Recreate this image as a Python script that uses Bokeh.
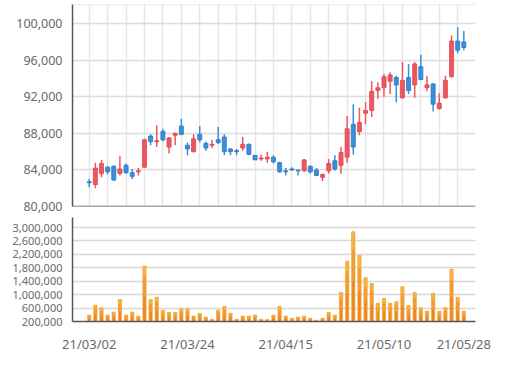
from bokeh.plotting import figure
from bokeh.layouts import column
from bokeh.models import Range1d, FixedTicker, Span, NumeralTickFormatter, ColumnDataSource
from bokeh.embed import file_html
from bokeh.resources import INLINE

dates = [
    "21/03/02", "21/03/03", "21/03/04", "21/03/05", "21/03/08", "21/03/09", "21/03/10", "21/03/11",
    "21/03/12", "21/03/15", "21/03/16", "21/03/17", "21/03/18", "21/03/19", "21/03/22", "21/03/23",
    "21/03/24", "21/03/25", "21/03/26", "21/03/29", "21/03/30", "21/03/31",
    "21/04/01", "21/04/02", "21/04/05", "21/04/06", "21/04/07", "21/04/08", "21/04/09", "21/04/12",
    "21/04/13", "21/04/14", "21/04/15", "21/04/16", "21/04/19", "21/04/20", "21/04/21", "21/04/22",
    "21/04/23", "21/04/26", "21/04/27", "21/04/28", "21/04/29", "21/04/30",
    "21/05/03", "21/05/04", "21/05/06", "21/05/07", "21/05/10", "21/05/11", "21/05/12", "21/05/13",
    "21/05/14", "21/05/17", "21/05/18", "21/05/20", "21/05/21", "21/05/24", "21/05/25", "21/05/26",
    "21/05/27", "21/05/28",
]

opens = [82700, 82400, 83600, 84300, 84400, 83600, 84500, 83700, 83800, 84300,
         87700, 87100, 88200, 86500, 87800, 88800, 86700, 86000, 87900, 86900,
         86700, 87300, 87600, 86300, 86100, 86400, 86800, 85600, 85200, 85200,
         85400, 84800, 83900, 84100, 84000, 83900, 84400, 84000, 83200, 83900,
         85000, 84500, 85400, 89000, 88200, 90200, 90500, 92700, 93000, 93700,
         94100, 91900, 94100, 93300, 95300, 93000, 93400, 90700, 91900, 94200,
         98100, 98000]
highs = [83000, 84800, 85100, 84400, 84500, 85500, 84700, 84100, 84200, 87400,
         87900, 88900, 88500, 87600, 88100, 89600, 87000, 87900, 88800, 87100,
         87300, 88700, 87900, 86400, 86300, 87600, 86900, 85600, 85700, 86000,
         85600, 84900, 84200, 84300, 84000, 85200, 84500, 84200, 83600, 85200,
         85600, 86500, 89900, 91200, 90800, 91400, 93700, 93600, 94500, 94700,
         94300, 95800, 95600, 95800, 96600, 94300, 93500, 92400, 94300, 98700,
         99600, 99200]
lows = [82100, 82000, 83200, 83500, 82800, 83400, 83600, 83000, 83400, 84200,
        86700, 86500, 87100, 85800, 86700, 87800, 85600, 85900, 87000, 86100,
        86400, 86800, 85600, 85600, 85600, 86100, 85600, 85100, 85000, 84800,
        84700, 83700, 83400, 83900, 83400, 83800, 83600, 83300, 82800, 83600,
        83900, 83600, 84800, 85700, 87800, 89000, 89800, 91800, 92000, 92300,
        91400, 91800, 92300, 91900, 93800, 92600, 90400, 90600, 91800, 94100,
        96800, 97100]
closes = [82600, 84200, 84700, 83800, 82900, 84100, 83700, 83300, 83900, 87300,
          87100, 87200, 87300, 87500, 88000, 87900, 86300, 87400, 87300, 86400,
          86800, 87000, 86000, 86000, 86000, 86800, 85700, 85100, 85300, 85400,
          84900, 83800, 83800, 84000, 83900, 85100, 83800, 83400, 83500, 84700,
          84100, 85900, 88500, 86500, 89200, 90500, 92600, 93000, 94200, 94400,
          93300, 93800, 92700, 95600, 93900, 93300, 91200, 91300, 93800, 98100,
          97100, 97400]
volumes = [395000, 688000, 610000, 395000, 483000, 854000, 395000, 483000, 366000, 1858000,
           854000, 922000, 541000, 473000, 473000, 580000, 580000, 366000, 444000, 337000,
           268000, 541000, 649000, 444000, 268000, 366000, 366000, 395000, 268000, 258000,
           395000, 649000, 366000, 298000, 337000, 366000, 298000, 239000, 298000, 473000,
           395000, 1068000, 1995000, 2873000, 2171000, 1507000, 1332000, 746000, 883000, 746000,
           785000, 1234000, 678000, 1068000, 610000, 512000, 1039000, 512000, 610000, 1761000,
           922000, 512000]

price_ticks = [80000, 84000, 88000, 92000, 96000, 100000]
volume_ticks = [200000, 600000, 1000000, 1400000, 1800000, 2200000, 2600000, 3000000]
date_tick_idx = [0, 16, 32, 48, 61]

UP = "#f0565f"
UP_LINE = "#dc464f"
DOWN = "#3a8fd9"
DOWN_LINE = "#2a79c2"
FONT = "Noto Sans"
LABEL = "#6a6a6a"
AXIS = "#555555"
VOL_BASE = 200000

idx = list(range(len(dates)))
src = ColumnDataSource(dict(
    x=idx,
    high=highs,
    low=lows,
    top=[max(o, c) for o, c in zip(opens, closes)],
    bottom=[min(o, c) for o, c in zip(opens, closes)],
    fill=[UP if c >= o else DOWN for o, c in zip(opens, closes)],
    edge=[UP_LINE if c >= o else DOWN_LINE for o, c in zip(opens, closes)],
    vol=volumes,
    mid=[VOL_BASE + 0.45 * (v - VOL_BASE) for v in volumes],
    upper=[VOL_BASE + 0.8 * (v - VOL_BASE) for v in volumes],
))

xr = Range1d(-2.72, 62.9)

p1 = figure(width=504, height=215, x_range=xr, y_range=Range1d(80000, 102100),
            output_backend="svg", toolbar_location=None,
            min_border_left=72, min_border_right=29, min_border_top=4, min_border_bottom=9)
p1.outline_line_color = None
p1.xaxis.visible = False
p1.xgrid.ticker = FixedTicker(ticks=list(range(0, 61, 3)))
p1.xgrid.grid_line_color = "#e6e6e6"
p1.xgrid.grid_line_width = 1.5
p1.ygrid.grid_line_color = "#dcdcdc"
p1.ygrid.grid_line_width = 1.5
p1.yaxis.ticker = FixedTicker(ticks=price_ticks)
p1.yaxis.formatter = NumeralTickFormatter(format="0,0")

p1.segment(x0="x", y0="low", x1="x", y1="high", source=src, line_color="fill", line_width=1.5)
p1.vbar(x="x", top="top", bottom="bottom", width=0.66, source=src,
        fill_color="fill", line_color="edge", line_width=0.8)
p1.add_layout(Span(location=102100, dimension="width", line_color="#e2e2e2", line_width=1.5))
p1.add_layout(Span(location=80000, dimension="width", line_color=AXIS, line_width=1.5))

p2 = figure(width=504, height=146, x_range=xr, y_range=Range1d(VOL_BASE, 3300000),
            output_backend="svg", toolbar_location=None,
            min_border_left=72, min_border_right=29, min_border_top=2, min_border_bottom=40)
p2.outline_line_color = None
p2.xgrid.visible = False
p2.ygrid.grid_line_color = "#d8d8d8"
p2.ygrid.grid_line_width = 1.5
p2.yaxis.ticker = FixedTicker(ticks=volume_ticks)
p2.yaxis.formatter = NumeralTickFormatter(format="0,0")
p2.xaxis.ticker = FixedTicker(ticks=date_tick_idx)
p2.xaxis.major_label_overrides = {i: dates[i] for i in date_tick_idx}
p2.vbar(x="x", top="vol", bottom=0, width=0.55, source=src,
        fill_color="#ec8526", line_color="#f5b552", line_width=0.7)
p2.vbar(x="x", top="vol", bottom="mid", width=0.45, source=src,
        fill_color="#f29d33", line_color=None)
p2.vbar(x="x", top="vol", bottom="upper", width=0.45, source=src,
        fill_color="#f6b445", line_color=None)

for p, size in ((p1, "12.5px"), (p2, "11px")):
    ax = p.yaxis[0]
    ax.axis_line_color = AXIS
    ax.axis_line_width = 1.5
    ax.major_tick_line_color = None
    ax.minor_tick_line_color = None
    ax.major_tick_out = 0
    ax.major_tick_in = 0
    ax.major_label_standoff = 10
    ax.major_label_text_font = FONT
    ax.major_label_text_font_size = size
    ax.major_label_text_color = LABEL

xa = p2.xaxis[0]
xa.axis_line_color = AXIS
xa.axis_line_width = 1.5
xa.major_tick_line_color = None
xa.minor_tick_line_color = None
xa.major_tick_out = 0
xa.major_tick_in = 0
xa.major_label_standoff = 13
xa.major_label_text_font = FONT
xa.major_label_text_font_size = "13px"
xa.major_label_text_color = LABEL

layout = column(p1, p2, spacing=0)

open("out.html", "w").write(file_html(layout, INLINE))
